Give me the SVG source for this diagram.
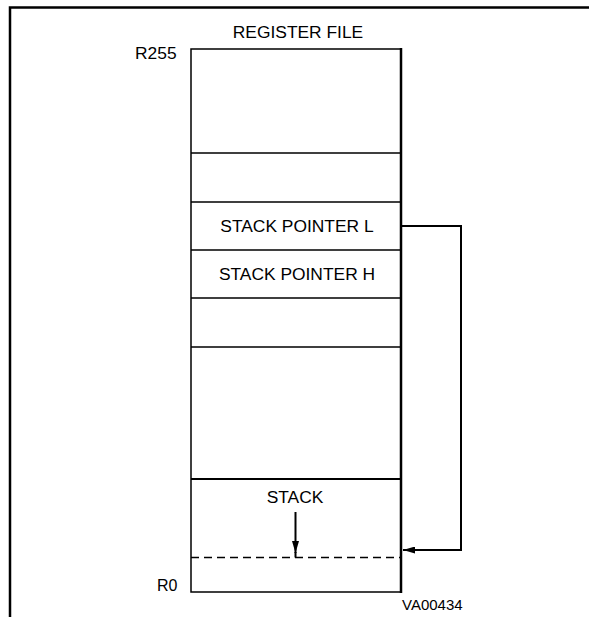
<svg xmlns="http://www.w3.org/2000/svg" width="589" height="617" viewBox="0 0 589 617">
<style>
text{font-family:"Liberation Sans",Arial,sans-serif;font-size:17.4px;fill:#000}
.c{text-anchor:middle}
.l{fill:none;stroke:#000;stroke-width:1.5}
</style>
<defs>
<marker id="ah" viewBox="0 0 12 7" refX="12" refY="3.5" markerWidth="12" markerHeight="7" markerUnits="userSpaceOnUse" orient="auto"><path d="M0,0 L12,3.5 L0,7 z" fill="#000"/></marker>
</defs>
<rect width="589" height="617" fill="#fff"/>
<path d="M10,617 V7.5 H589" fill="none" stroke="#000" stroke-width="2.5"/>
<g id="title"><text class="c" x="298" y="38">REGISTER FILE</text></g>
<g id="labels">
<text x="135" y="59">R255</text>
<text x="157" y="591" style="font-size:16px">R0</text>
<text x="402" y="610" style="font-size:15px">VA00434</text>
</g>
<g id="register-file">
<path class="l" d="M401,49 H191 V592 H401"/>
<path d="M401,48 V593" stroke="#000" stroke-width="2.5"/>
<path class="l" d="M191,153 H401 M191,202 H401 M191,250 H401 M191,298 H401 M191,347 H401"/>
<path d="M191,479 H401" stroke="#000" stroke-width="2"/>
</g>
<g id="sp-l"><text class="c" x="297" y="232">STACK POINTER L</text></g>
<g id="sp-h"><text class="c" x="297" y="280">STACK POINTER H</text></g>
<g id="stack">
<text class="c" x="295" y="503">STACK</text>
<path d="M191,557.5 H401" stroke="#000" stroke-width="1.5" stroke-dasharray="8,5"/>
</g>
<g id="connectors">
<path d="M295.5,512 V553" fill="none" stroke="#000" stroke-width="2" marker-end="url(#ah)"/>
<path d="M295.5,552 V557.5" fill="none" stroke="#000" stroke-width="2"/>
<path d="M401,226 H461 V550 H403" fill="none" stroke="#000" stroke-width="2" marker-end="url(#ah)"/>
</g>
</svg>
